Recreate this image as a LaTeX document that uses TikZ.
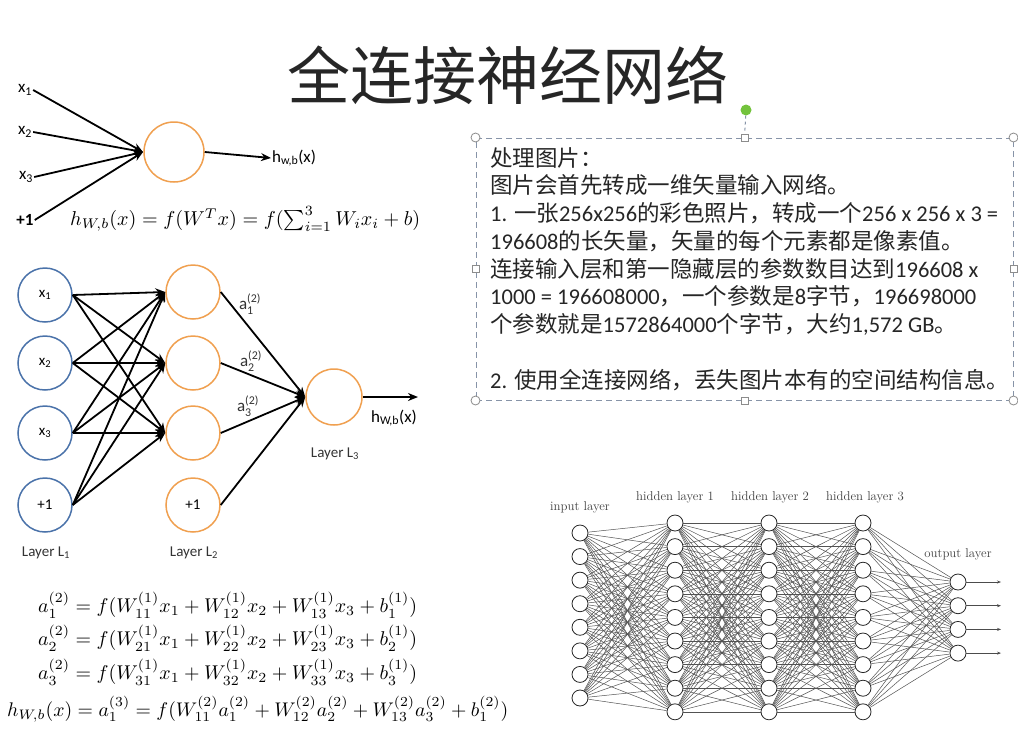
\documentclass[tikz,border=0pt]{standalone}
\usepackage[no-math]{fontspec}
\usepackage{amsmath}
\usepackage{graphicx}
\usetikzlibrary{arrows.meta}
\setmainfont{Carlito}
\newfontfamily\cjk{Noto Sans CJK SC}
\newfontfamily\latf{Carlito}
\newfontfamily\lmr{Latin Modern Roman}
\XeTeXinterchartokenstate=1
\newXeTeXintercharclass\CJKcls
\newcount\mycnt
\mycnt="4E00 \loop\XeTeXcharclass\mycnt=\CJKcls \ifnum\mycnt<"9FFF \advance\mycnt by 1 \repeat
\mycnt="3000 \loop\XeTeXcharclass\mycnt=\CJKcls \ifnum\mycnt<"303F \advance\mycnt by 1 \repeat
\mycnt="FF00 \loop\XeTeXcharclass\mycnt=\CJKcls \ifnum\mycnt<"FFEF \advance\mycnt by 1 \repeat
\XeTeXinterchartoks 0 \CJKcls={\cjk}
\XeTeXinterchartoks 4095 \CJKcls={\cjk}
\XeTeXinterchartoks \CJKcls 0={\latf}
\XeTeXinterchartoks \CJKcls 4095={\latf}
\definecolor{orng}{RGB}{240,160,80}
\definecolor{blu}{RGB}{75,115,170}
\definecolor{boxc}{RGB}{135,148,168}
\definecolor{grn}{RGB}{115,195,60}
\tikzset{
  ocirc/.style={circle, draw=orng, line width=1.5pt, minimum size=54pt, inner sep=0pt, font=\fontsize{15}{18}\selectfont},
  bcirc/.style={circle, draw=blu, line width=1.5pt, minimum size=54pt, inner sep=0pt, font=\fontsize{15}{18}\selectfont},
  lbl/.style={inner sep=1pt, font=\fontsize{17}{20}\selectfont},
  llbl/.style={inner sep=1pt, font=\fontsize{15}{18}\selectfont, text=black!80},
  albl/.style={inner sep=1pt, font=\fontsize{17}{20}\selectfont, text=black!80},
  thick arr/.style={line width=1.8pt, -{Stealth[length=10pt,width=8pt]}},
  nn/.style={circle, draw=black!85, fill=white, line width=0.8pt, minimum size=16pt, inner sep=0pt},
  conn/.style={draw=black!68, line width=0.5pt},
  nlbl/.style={font=\lmr\fontsize{12.8}{14}\selectfont, text=black!75},
  tl/.style={anchor=base west, inner sep=0pt, font=\fontsize{22.5}{27}\selectfont, text=black!85},
  hcirc/.style={circle, draw=black!45, fill=white, line width=0.8pt, minimum size=9pt, inner sep=0pt},
  hsq/.style={rectangle, draw=black!45, fill=white, line width=0.8pt, minimum size=7pt, inner sep=0pt},
}
\begin{document}
\begin{tikzpicture}[x=1pt, y=-1pt]
\useasboundingbox (0,0) rectangle (1018,740);
\fill[white] (0,0) rectangle (1018,740);

% Title
\node[inner sep=0pt, text=black!85, font=\fontsize{63}{63}\selectfont] (title) at (508,75) {全连接神经网络};

% Perceptron
\node[circle, draw=orng, line width=1.5pt, minimum size=60pt, inner sep=0pt] (p) at (174,152) {};
\node[lbl] (px1) at (25,90) {$\text{x}_{\text{1}}$};
\node[lbl] (px2) at (25,132) {$\text{x}_{\text{2}}$};
\node[lbl] (px3) at (26,177) {$\text{x}_{\text{3}}$};
\node[lbl] (px4) at (25,220) {\textbf{+1}};
\coordinate (pin) at (143,152);
\foreach \k in {1,2,3,4} \draw[line width=1.8pt, -{Stealth[length=10pt,width=8pt]}] (px\k.east) -- (pin);
\node[lbl, anchor=west] (ph) at (271,158) {$\text{h}_{\text{w,b}}\text{(x)}$};
\draw[thick arr] (p.east) -- (ph.west);
\node[anchor=west, inner sep=0pt] (peq) at (70,219) {\resizebox{350pt}{!}{$h_{W,b}(x) = f(W^Tx) = f(\sum_{i=1}^3 W_i x_i + b)$}};

% Middle network
\node[bcirc] (a1) at (45,295) {$\text{x}_{\text{1}}$};
\node[bcirc] (a2) at (45,363) {$\text{x}_{\text{2}}$};
\node[bcirc] (a3) at (45,433) {$\text{x}_{\text{3}}$};
\node[bcirc] (a4) at (45,505) {+1};
\node[ocirc] (b1) at (193,292) {};
\node[ocirc] (b2) at (193,363) {};
\node[ocirc] (b3) at (193,433) {};
\node[ocirc] (b4) at (193,505) {+1};
\node[circle, draw=orng, line width=1.5pt, minimum size=56pt, inner sep=0pt] (c1) at (334,397) {};
\foreach \i in {1,2,3,4} \foreach \j in {1,2,3} \draw[thick arr] (a\i.east) -- (b\j.west);
\foreach \j in {1,2,3,4} \draw[thick arr] (b\j.east) -- (c1.west);
\node[lbl, anchor=west] (ch) at (370,418) {$\text{h}_{\text{W,b}}\text{(x)}$};
\coordinate (cend) at (418,397);
\draw[thick arr] (c1.east) -- (cend);
\node[albl] (la1) at (250,304) {$\text{a}^{\text{(2)}}_{\text{1}}$};
\node[albl] (la2) at (251,361) {$\text{a}^{\text{(2)}}_{\text{2}}$};
\node[albl] (la3) at (248,406) {$\text{a}^{\text{(2)}}_{\text{3}}$};
\node[llbl] (L1) at (46,553) {Layer L$_{\text{1}}$};
\node[llbl] (L2) at (194,553) {Layer L$_{\text{2}}$};
\node[llbl] (L3) at (335,454) {Layer L$_{\text{3}}$};

% Equations
\node[anchor=west, inner sep=0pt] (e1) at (38,605) {\resizebox{379pt}{!}{$a_1^{(2)} = f(W_{11}^{(1)}x_1 + W_{12}^{(1)}x_2 + W_{13}^{(1)}x_3 + b_1^{(1)})$}};
\node[anchor=west, inner sep=0pt] (e2) at (38,638) {\resizebox{379pt}{!}{$a_2^{(2)} = f(W_{21}^{(1)}x_1 + W_{22}^{(1)}x_2 + W_{23}^{(1)}x_3 + b_2^{(1)})$}};
\node[anchor=west, inner sep=0pt] (e3) at (38,672) {\resizebox{379pt}{!}{$a_3^{(2)} = f(W_{31}^{(1)}x_1 + W_{32}^{(1)}x_2 + W_{33}^{(1)}x_3 + b_3^{(1)})$}};
\node[anchor=west, inner sep=0pt] (e4) at (7,709) {\resizebox{501pt}{!}{$h_{W,b}(x) = a_1^{(3)} = f(W_{11}^{(2)}a_1^{(2)} + W_{12}^{(2)}a_2^{(2)} + W_{13}^{(2)}a_3^{(2)} + b_1^{(2)})$}};

% Text box
\node[draw=boxc, dashed, dash pattern=on 6pt off 4pt, line width=1pt, minimum width=537pt, minimum height=262pt, inner sep=0pt] (tb) at (744.5,269) {};
\node[circle, fill=grn, minimum size=11pt, inner sep=0pt] (gd) at (746,110) {};
\node[hsq] (hn) at (tb.north) {};
\draw[boxc, dashed, line width=1pt, dash pattern=on 3pt off 3pt] (gd) -- (hn);
\node[hsq] (hs) at (tb.south) {};
\node[hsq] (hw) at (tb.west) {};
\node[hsq] (he) at (tb.east) {};
\node[hcirc] (hnw) at (tb.north west) {};
\node[hcirc] (hne) at (tb.north east) {};
\node[hcirc] (hsw) at (tb.south west) {};
\node[hcirc] (hse) at (tb.south east) {};

\node[tl] (t1) at (490,166) {处理图片：};
\node[tl] (t2) at (490,193.75) {图片会首先转成一维矢量输入网络。};
\node[tl] (t3) at (490,221.5) {1. 一张256x256的彩色照片，转成一个256 x 256 x 3 =};
\node[tl] (t4) at (490,249.25) {196608的长矢量，矢量的每个元素都是像素值。};
\node[tl] (t5) at (490,277) {连接输入层和第一隐藏层的参数数目达到196608 x};
\node[tl] (t6) at (490,304.75) {1000 = 196608000，一个参数是8字节，196698000};
\node[tl] (t7) at (490,332.5) {个参数就是1572864000个字节，大约1,572 GB。};
\node[tl] (t9) at (490,388) {2. 使用全连接网络，丢失图片本有的空间结构信息。};

% Deep network
\foreach \i in {0,...,7} \node[nn] (in\i) at (580, 533+23.57*\i) {};
\foreach \l/\x in {1/675,2/769,3/863} \foreach \i in {0,...,8} \node[nn] (h\l-\i) at (\x, 523+23.6*\i) {};
\foreach \i in {0,...,3} \node[nn] (o\i) at (958, 582+23.7*\i) {};
\foreach \i in {0,...,7} \foreach \j in {0,...,8} \draw[conn] (in\i) -- (h1-\j);
\foreach \i in {0,...,8} \foreach \j in {0,...,8} \draw[conn] (h1-\i) -- (h2-\j);
\foreach \i in {0,...,8} \foreach \j in {0,...,8} \draw[conn] (h2-\i) -- (h3-\j);
\foreach \i in {0,...,8} \foreach \j in {0,...,3} \draw[conn] (h3-\i) -- (o\j);
\foreach \i in {0,...,3} {
  \coordinate (oe\i) at (1001, 582+23.7*\i);
  \draw[black!70, line width=0.6pt, -{Stealth[length=4pt,width=3pt]}] (o\i) -- (oe\i);
}
\node[nlbl] (lin) at (580,507) {input layer};
\node[nlbl] (lh1) at (675,497) {hidden layer 1};
\node[nlbl] (lh2) at (770,497) {hidden layer 2};
\node[nlbl] (lh3) at (865,497) {hidden layer 3};
\node[nlbl] (lout) at (958,554) {output layer};
\end{tikzpicture}
\end{document}
